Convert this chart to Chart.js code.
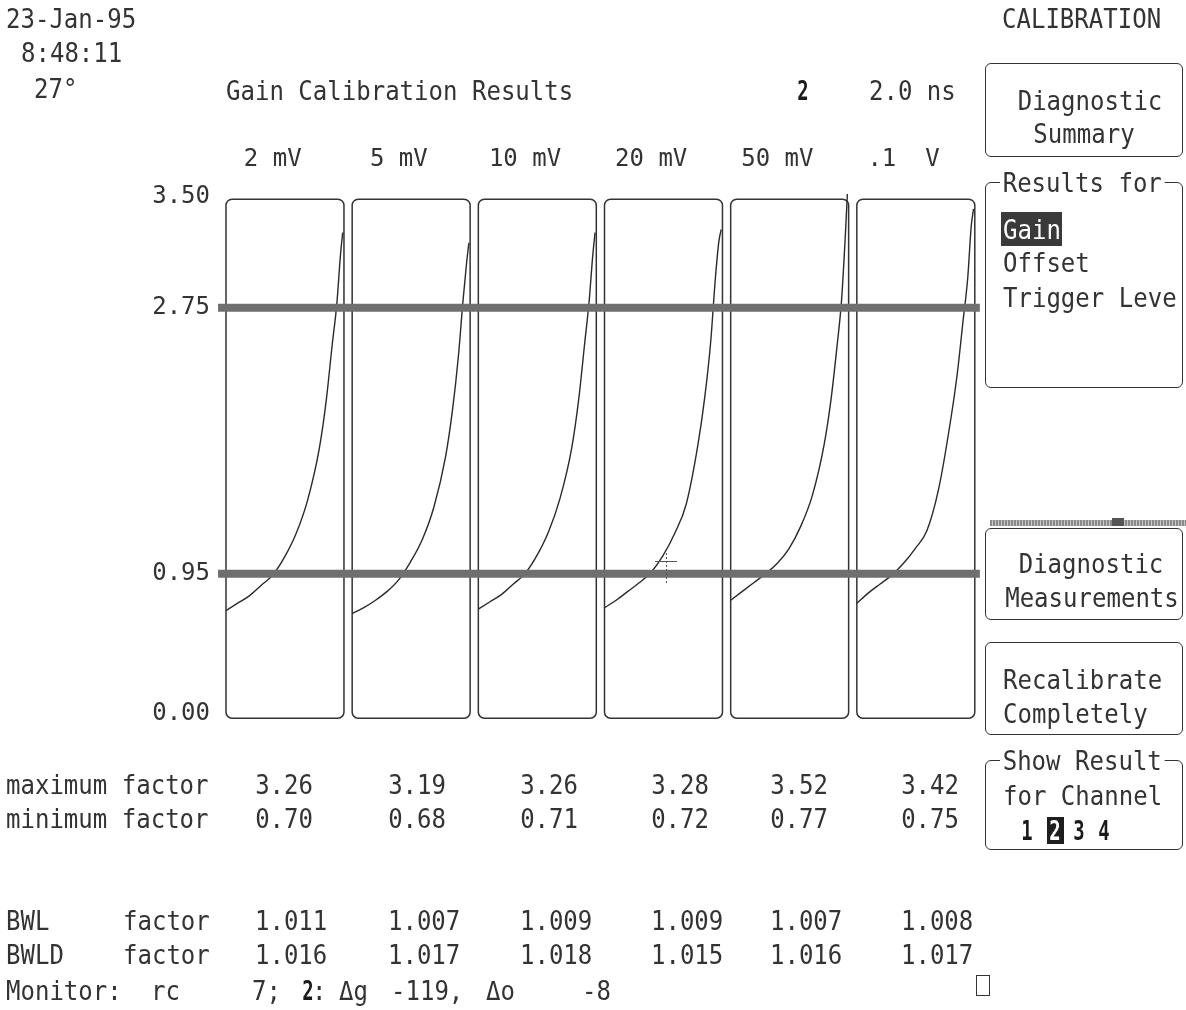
<!DOCTYPE html>
<html>
<head>
<meta charset="utf-8">
<title>Gain Calibration Results</title>
<script src="https://cdn.jsdelivr.net/npm/chart.js@4.4.1/dist/chart.umd.min.js"></script>
<style>
  body { margin: 0; background: #fff; }
  #screen { position: relative; width: 1186px; height: 1010px; overflow: hidden; background: #fff; }
  #screen canvas { position: absolute; left: 0; top: 0; }
  .t {
    position: absolute;
    font-family: "DejaVu Sans Mono", monospace;
    font-size: 27px;
    line-height: 27px;
    color: #333;
    white-space: pre;
    transform: scaleX(0.89);
    transform-origin: 0 50%;
  }
  .b { font-weight: bold; color: #1a1a1a; }
  .box { position: absolute; border: 1.6px solid #333; border-radius: 6px; box-sizing: border-box; }
  .bg { background: #fff; padding: 0 3px; }
</style>
</head>
<body>
<div id="screen">
  <canvas id="myChart" width="1186" height="1010"></canvas>
</div>
<script>
'use strict';

// DATA
// voltage ranges (one panel each)
let scaleLabels = ['2 mV', '5 mV', '10 mV', '20 mV', '50 mV', '.1  V'];
// y ticks of the gain factor axis
let yTicks = [0, 0.95, 2.75, 3.5];
// limit lines
let lowLimit = 0.95;
let highLimit = 2.75;

// sample positions across each panel (fraction of panel width)
let samplePos = [0, 0.1, 0.2, 0.3, 0.4, 0.5, 0.6, 0.7, 0.8, 0.86, 0.91, 0.95, 0.98, 1.0];
// gain factor read at each sample position, one array per range
let gain2mV  = [0.70, 0.75, 0.80, 0.87, 0.94, 1.06, 1.22, 1.45, 1.80, 2.13, 2.50, 2.78, 3.10, 3.26];
let gain5mV  = [0.68, 0.72, 0.77, 0.83, 0.91, 1.03, 1.18, 1.40, 1.74, 2.06, 2.42, 2.80, 3.05, 3.19];
let gain10mV = [0.71, 0.76, 0.81, 0.88, 0.95, 1.07, 1.23, 1.46, 1.80, 2.13, 2.50, 2.80, 3.10, 3.26];
let gain20mV = [0.72, 0.77, 0.83, 0.89, 0.96, 1.07, 1.22, 1.42, 1.82, 2.15, 2.52, 2.95, 3.20, 3.28];
let gain50mV = [0.77, 0.83, 0.89, 0.95, 1.02, 1.12, 1.27, 1.48, 1.82, 2.13, 2.48, 2.80, 3.20, 3.52];
let gain100mV = [0.75, 0.82, 0.88, 0.94, 1.02, 1.12, 1.24, 1.52, 1.97, 2.30, 2.66, 2.95, 3.30, 3.42];
let allGains = [gain2mV, gain5mV, gain10mV, gain20mV, gain50mV, gain100mV];

// table below the panels
let maxFactor = ['3.26', '3.19', '3.26', '3.28', '3.52', '3.42'];
let minFactor = ['0.70', '0.68', '0.71', '0.72', '0.77', '0.75'];
let bwlFactor = ['1.011', '1.007', '1.009', '1.009', '1.007', '1.008'];
let bwldFactor = ['1.016', '1.017', '1.018', '1.015', '1.016', '1.017'];

// LAYOUT (pixels / styles only)
let panelSpan = 0.935;     // box width in panel units
let curveSpan = 0.925;
let colRight = [327, 460, 592, 723, 842, 973];
let cw = 14.46;            // character cell width
let screen = document.getElementById('screen');

function put(str, x, cy, align, cls) {
  let d = document.createElement('div');
  d.className = 't' + (cls ? ' ' + cls : '');
  d.textContent = str;
  d.style.top = (cy - 13) + 'px';
  let sx = (cls === 'b') ? 0.7 : 0.89;
  if (align === 'right') {
    d.style.right = (1186 - x) + 'px';
    d.style.transformOrigin = '100% 50%';
    d.style.transform = 'scaleX(' + sx + ')';
  } else if (align === 'center') {
    d.style.left = x + 'px';
    d.style.transformOrigin = '50% 50%';
    d.style.transform = 'translateX(-50%) scaleX(' + sx + ')';
  } else {
    d.style.left = x + 'px';
    d.style.transform = 'scaleX(' + sx + ')';
  }
  screen.appendChild(d);
  return d;
}

function box(x, y, w, h, r) {
  let d = document.createElement('div');
  d.className = 'box';
  d.style.left = x + 'px';
  d.style.top = y + 'px';
  d.style.width = w + 'px';
  d.style.height = h + 'px';
  if (r !== undefined) d.style.borderRadius = r + 'px';
  screen.appendChild(d);
  return d;
}

function rect(x, y, w, h, bg) {
  let d = document.createElement('div');
  d.style.cssText = 'position:absolute;left:' + x + 'px;top:' + y + 'px;width:' + w + 'px;height:' + h + 'px;background:' + bg + ';';
  screen.appendChild(d);
  return d;
}

// HEADER
put('23-Jan-95', 6, 18);
put('8:48:11', 21, 52);
put('27°', 34, 88);
put('Gain Calibration Results', 226, 90);
put('2', 803, 90, 'center', 'b');
put('2.0 ns', 869, 90);
put('CALIBRATION', 1002, 18);

// RIGHT MENU
box(985, 63, 198, 94);
put('Diagnostic', 1090, 100, 'center');
put('Summary', 1084, 133, 'center');

box(985, 182, 198, 206);
put('Results for', 1000, 182, 'left', 'bg');
rect(1001, 212, 61, 34, '#3a3a3a');
put('Gain', 1003, 229).style.color = '#fff';
put('Offset', 1003, 262);
put('Trigger Leve', 1003, 297);

rect(990, 520, 196, 6, 'repeating-linear-gradient(90deg,#8a8a8a 0 2px,#c4c4c4 2px 3px)');
rect(1112, 518, 12, 8, '#555');

box(985, 528, 198, 92);
put('Diagnostic', 1091, 563, 'center');
put('Measurements', 1092, 597, 'center');

box(985, 642, 198, 93);
put('Recalibrate', 1003, 679);
put('Completely', 1003, 713);

box(985, 760, 198, 90);
put('Show Result', 1000, 760, 'left', 'bg');
put('for Channel', 1003, 795);
put('1', 1027, 830, 'center', 'b');
rect(1047, 817, 17, 27, '#1e1e1e');
put('2', 1055, 830, 'center', 'b').style.color = '#fff';
put('3', 1079, 830, 'center', 'b');
put('4', 1104, 830, 'center', 'b');

// TABLE
put('maximum factor', 6, 784);
put('minimum factor', 6, 818);
put('BWL', 6, 920);
put('factor', 123, 920);
put('BWLD', 6, 954);
put('factor', 123, 954);
for (let i = 0; i < 6; i++) {
  put(maxFactor[i], colRight[i] - 14, 784, 'right');
  put(minFactor[i], colRight[i] - 14, 818, 'right');
  put(bwlFactor[i], colRight[i], 920, 'right');
  put(bwldFactor[i], colRight[i], 954, 'right');
}
put('Monitor:', 6, 990);
put('rc', 6 + 10 * cw, 990);
put('7;', 6 + 17 * cw, 990);
put('2', 308, 990, 'center', 'b');
put(':', 312, 990);
put('Δg', 6 + 23 * cw, 990);
put('-119,', 6 + 26.6 * cw, 990);
put('Δo', 6 + 33.2 * cw, 990);
put('-8', 6 + 39.8 * cw, 990);
box(976, 975, 14, 21, 0);

// cursor mark in the 20 mV panel
rect(655, 561, 22, 1, '#555');
rect(666, 553, 1, 30, 'repeating-linear-gradient(180deg,#555 0 2px,transparent 2px 4px)');

// CHART
let datasets = [];
for (let p = 0; p < allGains.length; p++) {
  let pts = [];
  for (let k = 0; k < samplePos.length; k++) {
    pts.push({ x: p + samplePos[k] * curveSpan, y: allGains[p][k] });
  }
  datasets.push({
    label: scaleLabels[p],
    data: pts,
    borderColor: '#2a2a2a',
    borderWidth: 1.4,
    pointRadius: 0,
    cubicInterpolationMode: 'monotone',
    clip: false,
    order: 2
  });
}
[highLimit, lowLimit].forEach(function (lim) {
  datasets.push({
    label: 'limit ' + lim,
    data: [{ x: -0.063, y: lim }, { x: 5.975, y: lim }],
    borderColor: '#6f6f6f',
    borderWidth: 8,
    pointRadius: 0,
    clip: false,
    order: 1
  });
});

const panelFrames = {
  id: 'panelFrames',
  beforeDatasetsDraw(chart) {
    let ctx = chart.ctx;
    let xs = chart.scales.x;
    let ys = chart.scales.y;
    ctx.save();
    ctx.strokeStyle = '#333';
    ctx.lineWidth = 1.5;
    for (let p = 0; p < scaleLabels.length; p++) {
      let x0 = xs.getPixelForValue(p);
      let x1 = xs.getPixelForValue(p + panelSpan);
      let y0 = ys.getPixelForValue(3.485);
      let y1 = ys.getPixelForValue(-0.028);
      ctx.beginPath();
      ctx.roundRect(x0, y0, x1 - x0, y1 - y0, 6);
      ctx.stroke();
    }
    ctx.restore();
  }
};

const config = {
  type: 'line',
  data: { datasets: datasets },
  options: {
    responsive: false,
    animation: false,
    events: [],
    layout: { padding: { left: 136, right: 203, top: 147, bottom: 296 } },
    plugins: { legend: { display: false }, tooltip: { enabled: false } },
    scales: {
      x: {
        type: 'linear',
        position: 'top',
        min: 0,
        max: 6,
        grid: { display: false, drawTicks: false },
        border: { display: false },
        afterBuildTicks: function (s) {
          s.ticks = scaleLabels.map(function (l, i) { return { value: i + 0.37 }; });
        },
        afterFit: function (s) { s.height = 50; },
        ticks: {
          autoSkip: false,
          maxRotation: 0,
          padding: 23,
          color: '#333',
          font: { family: 'DejaVu Sans Mono', size: 24 },
          callback: function (v, i) { return scaleLabels[i]; }
        }
      },
      y: {
        min: 0,
        max: 3.5,
        grid: { display: false, drawTicks: false },
        border: { display: false },
        afterBuildTicks: function (s) {
          s.ticks = yTicks.map(function (v) { return { value: v }; });
        },
        afterFit: function (s) { s.width = 90; },
        ticks: {
          padding: 16,
          color: '#333',
          font: { family: 'DejaVu Sans Mono', size: 24 },
          callback: function (v) { return v.toFixed(2); }
        }
      }
    }
  },
  plugins: [panelFrames]
};

const myChart = new Chart(document.getElementById('myChart'), config);
</script>
</body>
</html>
